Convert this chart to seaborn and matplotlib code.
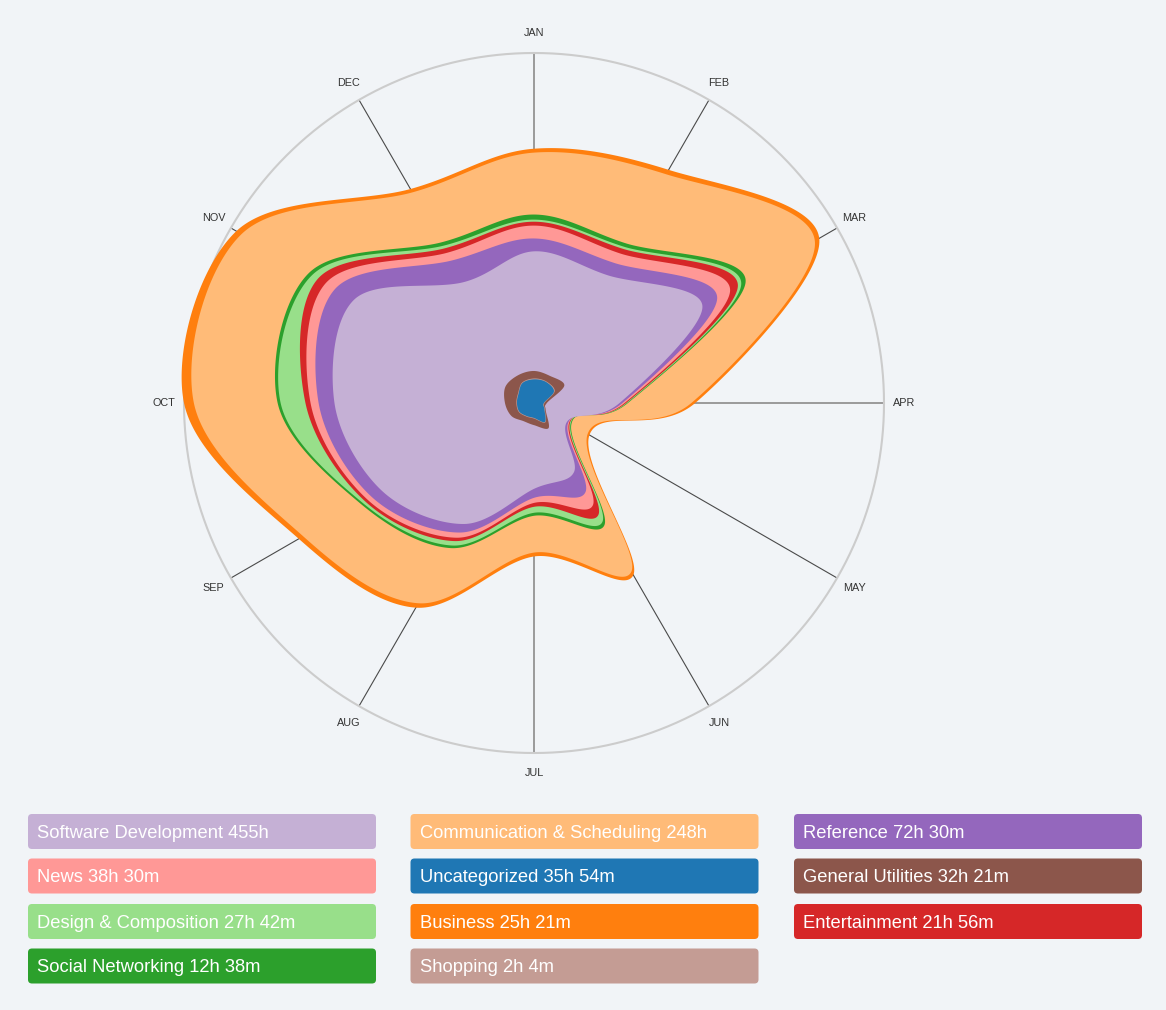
import numpy as np
import pandas as pd
import matplotlib
matplotlib.use("Agg")
import matplotlib.pyplot as plt
import seaborn as sns
from matplotlib.patches import FancyBboxPatch

# ---------------- data ----------------
months = ["JAN", "FEB", "MAR", "APR", "MAY", "JUN",
          "JUL", "AUG", "SEP", "OCT", "NOV", "DEC"]

# layers, stacked from the centre outwards
categories = ["Uncategorized", "Shopping", "General Utilities",
              "Software Development", "Reference", "News", "Entertainment",
              "Design & Composition", "Social Networking",
              "Communication & Scheduling", "Business"]

uncategorized = [7.9, 8.1, 7.7, 3.3, 4.0, 7.3, 5.0, 5.0, 5.7, 5.7, 6.0, 7.7]
shopping      = [0.3, 0.2, 0.3, 0.2, 0.2, 0.2, 0.2, 0.2, 0.2, 0.2, 0.2, 0.2]
general_util  = [2.5, 2.2, 3.7, 0.8, 0.3, 2.2, 2.2, 1.8, 2.8, 3.8, 4.8, 2.8]
software_dev  = [40.0, 38.8, 53.3, 24.3, 8.2, 17.0, 21.3, 39.7, 50.0, 57.0, 58.3, 36.0]
reference     = [4.3, 4.7, 5.7, 1.0, 0.5, 7.7, 3.0, 3.3, 4.0, 5.3, 7.3, 8.3]
news          = [4.3, 3.7, 5.0, 0.7, 0.3, 5.0, 1.7, 2.0, 1.7, 2.7, 3.7, 3.0]
entertainment = [1.3, 1.8, 3.0, 0.5, 0.3, 3.7, 1.3, 1.3, 1.0, 1.7, 3.0, 1.7]
design        = [0.7, 0.8, 1.3, 0.3, 0.3, 2.7, 2.0, 1.7, 1.0, 8.3, 2.3, 1.0]
social        = [1.7, 1.3, 1.7, 0.3, 0.3, 1.3, 1.0, 1.0, 0.7, 1.0, 1.3, 1.3]
communication = [20.7, 26.7, 26.7, 21.2, 6.3, 18.0, 12.3, 21.3, 22.0, 28.0, 26.0, 19.3]
business      = [1.3, 1.7, 1.7, 1.3, 0.7, 1.3, 1.3, 1.7, 1.7, 3.3, 2.0, 1.3]

legend_categories = ["Software Development", "Communication & Scheduling", "Reference",
                     "News", "Uncategorized", "General Utilities",
                     "Design & Composition", "Business", "Entertainment",
                     "Social Networking", "Shopping"]
legend_labels = ["Software Development 455h", "Communication & Scheduling 248h",
                 "Reference 72h 30m", "News 38h 30m", "Uncategorized 35h 54m",
                 "General Utilities 32h 21m", "Design & Composition 27h 42m",
                 "Business 25h 21m", "Entertainment 21h 56m",
                 "Social Networking 12h 38m", "Shopping 2h 4m"]

# ---------------- style ----------------
sns.set_style("white")
plt.rcParams["font.family"] = ["Liberation Sans", "DejaVu Sans"]
BG = "#f1f4f7"

tab = sns.color_palette("tab20")
palette = {
    "Uncategorized": tab[0], "Business": tab[2], "Communication & Scheduling": tab[3],
    "Social Networking": tab[4], "Design & Composition": tab[5], "Entertainment": tab[6],
    "News": tab[7], "Reference": tab[8], "Software Development": tab[9],
    "General Utilities": tab[10], "Shopping": tab[11],
}

df = pd.DataFrame({
    "Uncategorized": uncategorized, "Shopping": shopping,
    "General Utilities": general_util, "Software Development": software_dev,
    "Reference": reference, "News": news, "Entertainment": entertainment,
    "Design & Composition": design, "Social Networking": social,
    "Communication & Scheduling": communication, "Business": business,
}, index=months)[categories]
cum = df.cumsum(axis=1)

W, H = 1166, 1010
CX, CY = 534, 403          # centre in pixels (from top-left)
R_CIRCLE = 350             # outer circle radius, px
R_AXES = 400               # polar axes radius, px

fig = plt.figure(figsize=(W / 100, H / 100), dpi=100, facecolor=BG)
ax = fig.add_axes([(CX - R_AXES) / W, (H - CY - R_AXES) / H,
                   2 * R_AXES / W, 2 * R_AXES / H], projection="polar")
ax.set_theta_zero_location("N")
ax.set_theta_direction(-1)
ax.set_axis_off()

rmax = cum.iloc[:, -1].max()
ax.set_ylim(0, rmax * R_AXES / R_CIRCLE)

theta = np.arange(len(months)) * 2 * np.pi / len(months)


def closed_catmull_rom(th, r, n=60):
    x = np.asarray(r) * np.sin(th)
    y = np.asarray(r) * np.cos(th)
    P = np.column_stack([x, y])
    N = len(P)
    t = np.linspace(0, 1, n, endpoint=False)[:, None]
    segs = []
    for i in range(N):
        p0, p1, p2, p3 = P[(i - 1) % N], P[i], P[(i + 1) % N], P[(i + 2) % N]
        seg = 0.5 * ((2 * p1) + (-p0 + p2) * t + (2 * p0 - 5 * p1 + 4 * p2 - p3) * t ** 2
                     + (-p0 + 3 * p1 - 3 * p2 + p3) * t ** 3)
        segs.append(seg)
    pts = np.vstack(segs + [segs[0][:1]])
    th_out = np.unwrap(np.arctan2(pts[:, 0], pts[:, 1]))
    r_out = np.hypot(pts[:, 0], pts[:, 1])
    return th_out, r_out


# spokes
for i, th in enumerate(theta):
    axis_aligned = i % 3 == 0
    ax.plot([th, th], [0, rmax], color="#9a9a9a" if axis_aligned else "#4a4a4a",
            lw=1.4 if axis_aligned else 0.8, zorder=1, solid_capstyle="butt")

# outer circle
tc = np.linspace(0, 2 * np.pi, 721)
ax.plot(tc, np.full_like(tc, rmax), color="#cccccc", lw=1.5, zorder=1)

# stacked radial areas: paint outermost first
for cat in categories[::-1]:
    th_s, r_s = closed_catmull_rom(theta, cum[cat].values)
    ax.fill(th_s, r_s, color=palette[cat], lw=0, zorder=2)

# month labels
for th, m in zip(theta, months):
    ax.text(th, rmax * 370 / R_CIRCLE, m, ha="center", va="center",
            fontsize=7.8, color="#333333", zorder=3)

# ---------------- legend ----------------
lax = fig.add_axes([0, 0, 1, 1])
lax.set_xlim(0, W)
lax.set_ylim(H, 0)
lax.set_axis_off()

col_x = [28, 410.5, 794]
row_y = [814, 858.5, 904, 948.5]
box_w, box_h = 348, 35
for k, (cat, lab) in enumerate(zip(legend_categories, legend_labels)):
    r_i, c_i = divmod(k, 3)
    x0, y0 = col_x[c_i], row_y[r_i]
    lax.add_patch(FancyBboxPatch((x0, y0), box_w, box_h,
                                 boxstyle="round,pad=0,rounding_size=4",
                                 facecolor=palette[cat], edgecolor="none"))
    lax.text(x0 + 9, y0 + 24, lab, ha="left", va="baseline",
             fontsize=13.2, color="white")

fig.savefig("out.png", dpi=100, facecolor=BG)
